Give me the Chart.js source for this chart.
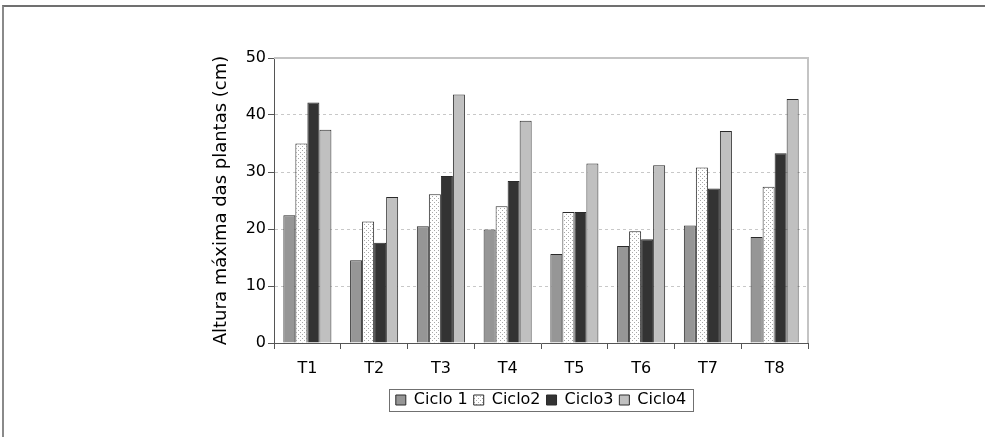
<!DOCTYPE html>
<html>
<head>
<meta charset="utf-8">
<script src="https://cdn.jsdelivr.net/npm/chart.js@4/dist/chart.umd.min.js"></script>
<style>
  body { margin: 0; background: #fff; }
  #wrap { position: relative; width: 985px; height: 437px; }
  #moldura { position: absolute; left: 2px; top: 5px; right: 0; bottom: 0;
    border-top: 2px solid #707070; border-left: 2px solid #8a8a8a; pointer-events: none; }
  canvas { position: absolute; left: 0; top: 0; }
</style>
</head>
<body>
<div id="wrap">
  <canvas id="grafico" width="985" height="437"></canvas>
  <div id="moldura"></div>
</div>
<script>
// tratamentos e ciclos
var tratamentos = ['T1', 'T2', 'T3', 'T4', 'T5', 'T6', 'T7', 'T8'];
var ciclo1 = [22.4, 14.5, 20.5, 19.9, 15.6, 17.0, 20.6, 18.6];
var ciclo2 = [35.0, 21.3, 26.1, 24.0, 23.0, 19.6, 30.8, 27.4];
var ciclo3 = [42.2, 17.6, 29.3, 28.4, 23.0, 18.2, 27.1, 33.3];
var ciclo4 = [37.4, 25.6, 43.6, 39.0, 31.5, 31.2, 37.2, 42.8];
var nomesCiclos = ['Ciclo 1', 'Ciclo2', 'Ciclo3', 'Ciclo4'];
var yTicks = [0, 10, 20, 30, 40, 50];

// pontilhado do Ciclo2
function pontilhado() {
  var c = document.createElement('canvas');
  c.width = 4; c.height = 4;
  var g = c.getContext('2d');
  g.fillStyle = '#ffffff';
  g.fillRect(0, 0, 4, 4);
  g.fillStyle = '#a8a8a8';
  g.fillRect(0, 0, 1, 1);
  g.fillRect(2, 2, 1, 1);
  return g.createPattern(c, 'repeat');
}

var fonte = 'DejaVu Sans, Verdana, sans-serif';

// moldura do grafico e caixa da legenda
var extras = {
  id: 'extras',
  beforeDraw: function (chart) {
    var a = chart.chartArea;
    var l = chart.legend;
    var dx = (a.left + a.right) / 2 - (l.left + l.right) / 2;
    l.left += dx; l.right += dx;
    var dy = 386 - l.top;
    l.top += dy; l.bottom += dy;
  },
  afterDraw: function (chart) {
    var ctx = chart.ctx, a = chart.chartArea, l = chart.legend;
    ctx.save();
    ctx.strokeStyle = '#c4c4c4';
    ctx.lineWidth = 2;
    ctx.beginPath();
    ctx.moveTo(a.left, a.top);
    ctx.lineTo(a.right, a.top);
    ctx.lineTo(a.right, a.bottom);
    ctx.stroke();
    var w = l.lineWidths[0];
    var cx = (a.left + a.right) / 2;
    ctx.strokeStyle = '#707070';
    ctx.lineWidth = 1;
    ctx.strokeRect(Math.round(cx - w / 2 - 4) + 0.5, 389.5, Math.round(w + 8), 22);
    ctx.restore();
  }
};

new Chart(document.getElementById('grafico'), {
  type: 'bar',
  data: {
    labels: tratamentos,
    datasets: [
      { label: nomesCiclos[0], data: ciclo1, backgroundColor: '#969696' },
      { label: nomesCiclos[1], data: ciclo2, backgroundColor: pontilhado() },
      { label: nomesCiclos[2], data: ciclo3, backgroundColor: '#333333' },
      { label: nomesCiclos[3], data: ciclo4, backgroundColor: '#c0c0c0' }
    ]
  },
  options: {
    responsive: false,
    animation: false,
    layout: { padding: { left: 207, right: 177, top: 58, bottom: 10 } },
    datasets: {
      bar: { borderColor: '#2a2a2a', borderWidth: 1, categoryPercentage: 0.72, barPercentage: 1 }
    },
    plugins: {
      legend: {
        position: 'bottom',
        labels: {
          font: { family: fonte, size: 16 },
          color: '#000',
          boxWidth: 10, boxHeight: 10, padding: 6
        }
      },
      tooltip: { enabled: false }
    },
    scales: {
      x: {
        offset: true,
        afterFit: function (s) { s.height = 52; },
        grid: { offset: true, drawOnChartArea: false, drawTicks: true, tickLength: 6,
                tickColor: '#555', color: '#555' },
        border: { color: '#555', width: 1 },
        ticks: { font: { family: fonte, size: 16 }, color: '#000', padding: 10 }
      },
      y: {
        min: 0, max: 50,
        afterFit: function (s) { s.width = 67; },
        afterBuildTicks: function (s) { s.ticks = yTicks.map(function (v) { return { value: v }; }); },
        grid: {
          color: function (c) { return (c.tick && (c.tick.value === 0 || c.tick.value === 50)) ? 'rgba(0,0,0,0)' : '#c8c8c8'; },
          tickColor: '#555', tickLength: 6, tickBorderDash: []
        },
        border: { color: '#555', width: 1, dash: [3, 3] },
        ticks: { font: { family: fonte, size: 16 }, color: '#000', padding: 2 },
        title: { display: true, text: 'Altura máxima das plantas (cm)',
                 font: { family: fonte, size: 18 }, color: '#000', padding: { top: 4, bottom: 4 } }
      }
    }
  },
  plugins: [extras]
});
</script>
</body>
</html>
